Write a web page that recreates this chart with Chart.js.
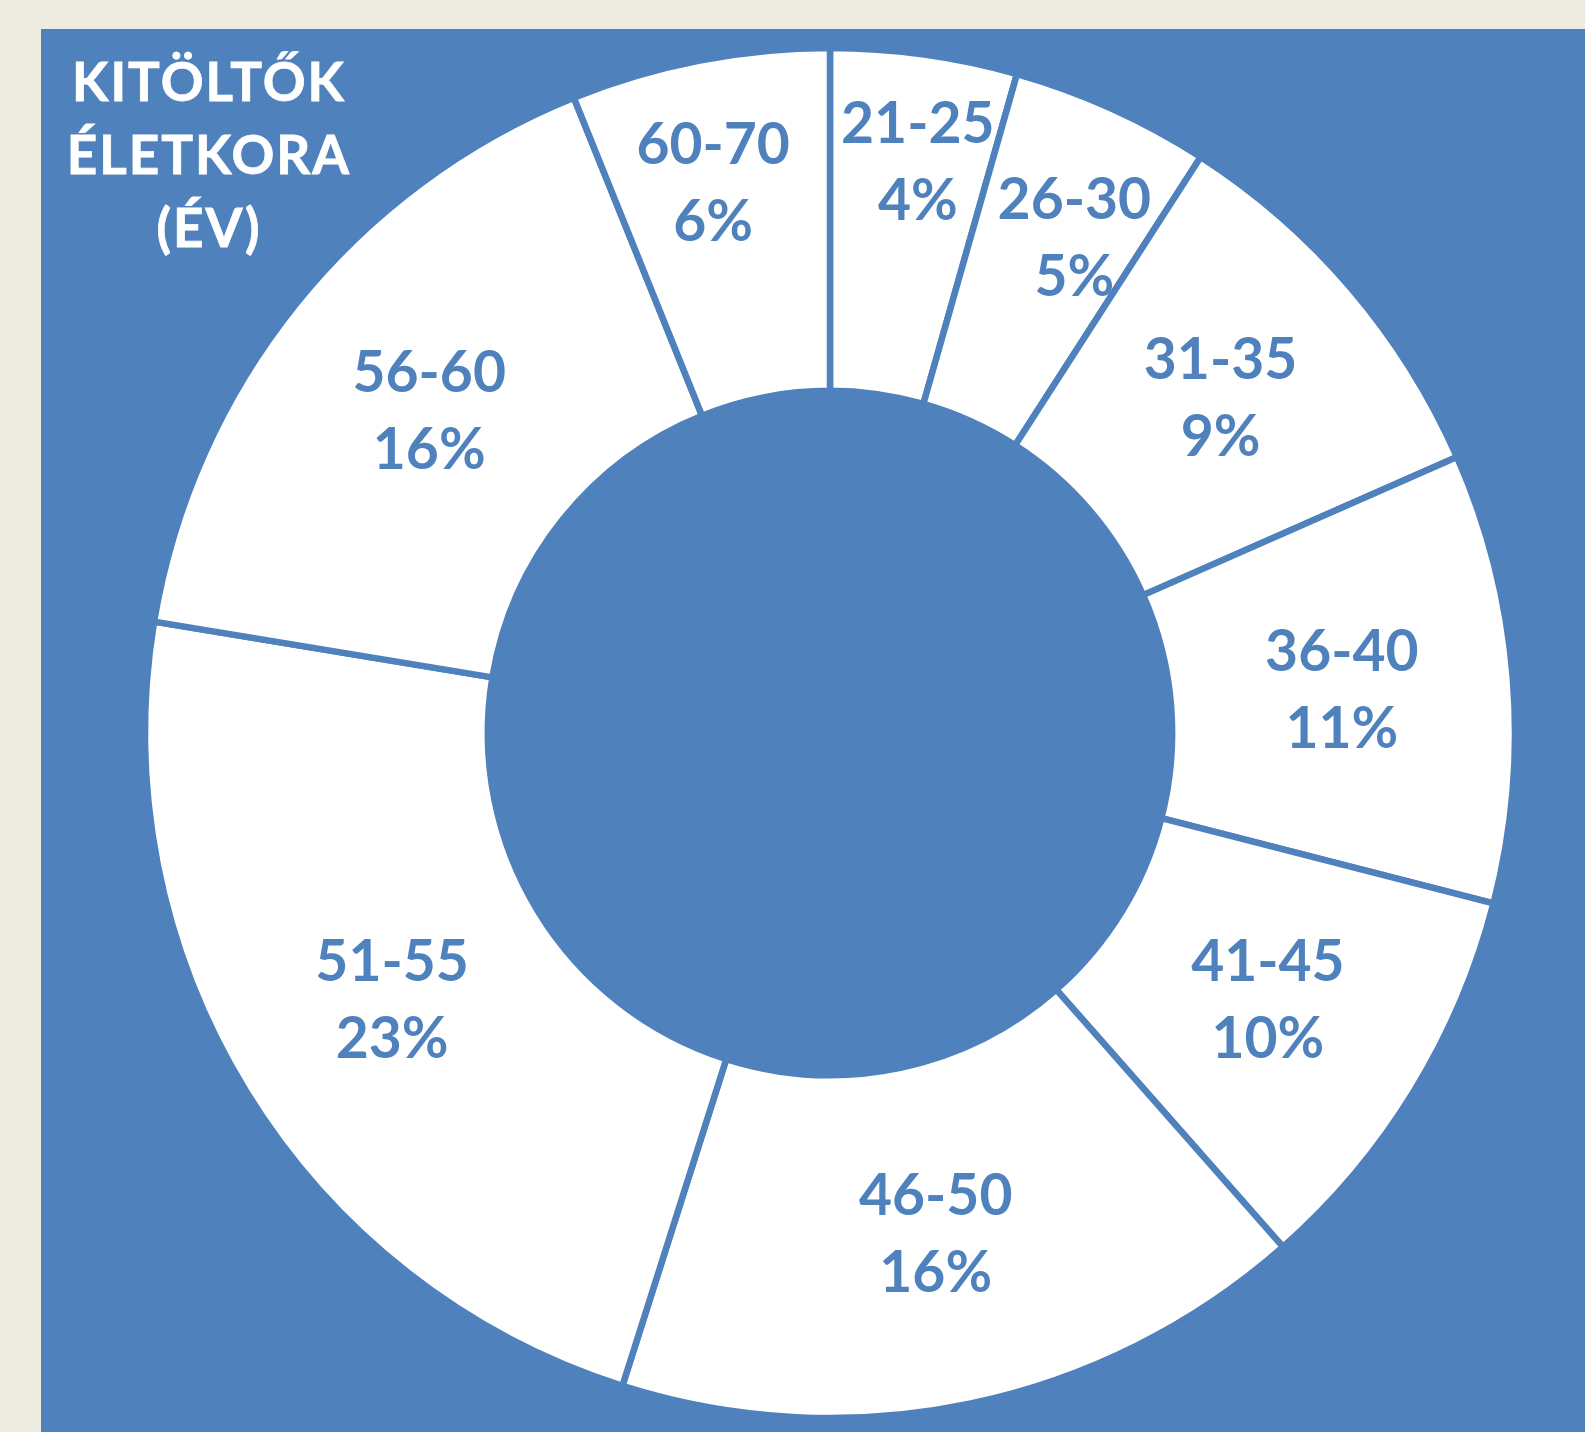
<!DOCTYPE html>
<html>
<head>
<meta charset="utf-8">
<script src="https://cdn.jsdelivr.net/npm/chart.js@4.4.1/dist/chart.umd.min.js"></script>
<style>
  html, body { margin: 0; padding: 0; }
  body { width: 1585px; height: 1432px; background: #eeebe0; position: relative; overflow: hidden; }
  .panel { position: absolute; left: 41px; top: 29px; width: 1544px; height: 1403px; background: #4f81bd; }
  .chart-wrap { position: absolute; left: 130px; top: 33px; width: 1400px; height: 1400px; }
  .title {
    position: absolute; left: 0; top: 44px; width: 418px;
    font-family: Lato, sans-serif; font-weight: 700; font-size: 53px; line-height: 73px;
    letter-spacing: 2px; color: #ffffff; text-align: center;
    -webkit-text-stroke: 0.8px #ffffff;
  }
</style>
</head>
<body>
<div class="panel"></div>
<div class="chart-wrap"><canvas id="ages" width="1400" height="1400"></canvas></div>
<div class="title">KITÖLTŐK<br>ÉLETKORA<br>(ÉV)</div>
<script>
const ageGroups = [`21-25`, `26-30`, `31-35`, `36-40`, `41-45`, `46-50`, `51-55`, `56-60`, `60-70`];
// share of respondents in %
const shares = [4.4, 4.7, 9.3, 10.6, 9.5, 16.4, 22.7, 16.3, 6.1];

const blue = `#4f81bd`;

// labels sit in the middle of the ring, the small top slices were pushed out a bit
const sliceLabels = {
  id: `sliceLabels`,
  afterDatasetsDraw(chart, args, opts) {
    const ctx = chart.ctx;
    const meta = chart.getDatasetMeta(0);
    ctx.save();
    ctx.font = `700 57px Lato, sans-serif`;
    ctx.fillStyle = blue;
    ctx.textAlign = `center`;
    ctx.textBaseline = `middle`;
    meta.data.forEach((arc, i) => {
      const p = arc.getProps([`x`, `y`, `startAngle`, `endAngle`, `innerRadius`, `outerRadius`], true);
      const mid = (p.startAngle + p.endAngle) / 2;
      const r = (p.innerRadius + p.outerRadius) / 2;
      const shift = opts.shift[ageGroups[i]] || [0, 0];
      const x = p.x + Math.cos(mid) * r + shift[0];
      const y = p.y + Math.sin(mid) * r + shift[1];
      ctx.fillText(ageGroups[i], x, y - opts.gap / 2);
      ctx.fillText(Math.round(shares[i]) + `%`, x, y + opts.gap / 2);
    });
    ctx.restore();
  }
};

const ctx = document.getElementById(`ages`);

new Chart(ctx, {
  type: `doughnut`,
  plugins: [sliceLabels],
  data: {
    labels: ageGroups,
    datasets: [{
      data: shares,
      backgroundColor: `#ffffff`,
      borderColor: blue,
      borderWidth: 6.5,
      hoverOffset: 0,
      offset: 0
    }]
  },
  options: {
    responsive: false,
    animation: false,
    radius: 685,
    cutout: `49.95%`,
    layout: { padding: 0 },
    plugins: {
      legend: { display: false },
      tooltip: { enabled: false },
      sliceLabels: {
        gap: 77,
        shift: {
          '21-25': [17, -61],
          '26-30': [33, -26],
          '60-70': [-19, -45]
        }
      }
    }
  }
});
</script>
</body>
</html>
